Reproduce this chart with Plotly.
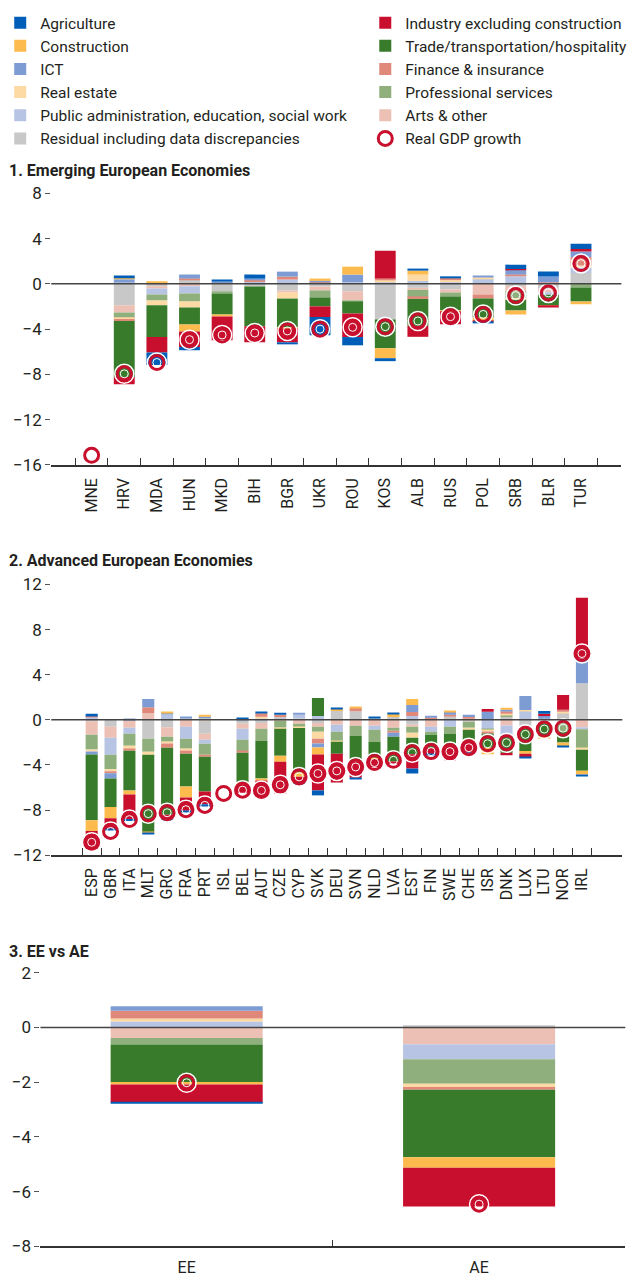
import plotly.graph_objects as go

FONT = "Roboto, Liberation Sans, sans-serif"
RED = "#C8102E"

# ---- 1. Emerging European Economies ----
ee_countries = ["MNE", "HRV", "MDA", "HUN", "MKD", "BIH", "BGR", "UKR",
                "ROU", "KOS", "ALB", "RUS", "POL", "SRB", "BLR", "TUR"]
ee_resid = [0, -1.88, -0.20, 0.38, -0.65, -0.23, -0.59, -0.23, -0.65, -3.14, -0.35, -0.50, 0, -0.20, -0.44, 0.97]
ee_arts = [0, -0.65, -0.20, -0.20, 0, 0, -0.18, -0.35, -0.82, 0, -0.18, -0.26, -0.94, -0.44, -0.29, 0]
ee_pa = [0, 0.12, -0.53, -0.65, 0, 0.17, 0.38, 0.10, 0.15, 0.16, 0.26, 0.15, 0.44, 0.67, -0.23, 0.47]
ee_prof = [0, -0.50, -0.53, -0.70, -0.20, 0, 0, -0.62, -0.09, 0, -0.65, -0.35, 0, -0.65, 0, -0.32]
ee_reale = [0, -0.08, -0.44, -0.53, 0.10, 0, -0.53, 0, 0, 0.17, 0.56, 0.18, 0.12, -0.12, 0, 0.18]
ee_fin = [0, -0.18, 0.08, 0.09, 0, 0.18, 0.26, 0.07, 0, 0.14, -0.15, 0.23, -0.35, 0.15, 0.15, 0.76]
ee_ict = [0, 0.28, 0, 0.35, 0.10, 0.12, 0.44, 0.10, 0.67, 0, 0, 0, 0.18, 0.41, 0.50, 0.47]
ee_trade = [0, -4.93, -2.79, -1.50, -1.85, -3.52, -2.55, -0.79, -1.06, -2.55, -2.38, -1.23, -1.70, -0.94, -0.94, -1.23]
ee_constr = [0, 0.17, 0.12, -0.62, -0.18, 0, -0.09, 0.20, 0.70, -0.88, 0.35, -0.09, -0.29, -0.35, -0.06, -0.26]
ee_ind = [0, -0.65, -1.38, -1.38, -2.11, -1.41, -1.23, -0.94, -2.08, 2.46, -0.97, -1.14, -0.09, 0.09, -0.12, 0.23]
ee_agri = [0, 0.16, -1.11, -0.29, 0.18, 0.35, -0.15, -1.61, -0.73, -0.26, 0.18, 0.09, -0.12, 0.38, 0.44, 0.47]
ee_gdp = [-15.15, -7.95, -6.95, -4.93, -4.52, -4.34, -4.16, -4.00, -3.84, -3.78, -3.28, -2.90, -2.70, -1.03, -0.80, 1.79]

# ---- 2. Advanced European Economies ----
ae_countries = ["ESP", "GBR", "ITA", "MLT", "GRC", "FRA", "PRT", "ISL", "BEL", "AUT", "CZE", "CYP", "SVK", "DEU",
                "SVN", "NLD", "LVA", "EST", "FIN", "SWE", "CHE", "ISR", "DNK", "LUX", "LTU", "NOR", "IRL"]
ae_resid = [-0.12, -0.62, -0.09, -1.68, -0.65, 0.15, -1.24, 0, -0.35, -0.29, 0.26, 0.12, -0.29, 0.79,
            0.76, 0.17, 0.26, -0.44, 0.09, 0.35, -0.18, 0, 0.26, -0.50, -0.12, 0.62, 3.24]
ae_arts = [-1.20, -0.97, -0.62, 0.58, -0.85, -0.62, -0.53, 0, -0.44, -0.50, -0.09, -0.35, -0.32, -0.44,
           -0.53, -0.53, -0.71, -0.18, -0.62, 0, 0.17, 0, -0.50, -0.29, 0, 0, -0.65]
ae_pa = [0.23, -1.50, -0.53, 0, 0.47, -1.06, -0.35, 0, -0.97, 0.12, 0, 0.32, 0.35, -0.62,
         0, -0.35, 0, 0.35, -0.44, -0.62, 0, -0.82, -0.94, 0.79, 0.09, -0.30, -0.18]
ae_prof = [-1.32, -1.29, -1.06, -1.15, -0.44, -0.88, -0.97, 0, -1.00, -1.06, -0.62, -0.32, -0.44, -0.82,
           -0.88, -1.06, -0.26, -0.53, -0.26, -0.62, -0.53, -0.12, 0.18, 0, -0.18, -0.74, -1.68]
ae_reale = [-0.18, -0.18, -0.29, -0.26, -0.15, -0.15, 0.12, 0, 0, 0.15, -0.09, -0.06, -0.62, -0.06,
            0, 0, 0, -0.44, 0, 0, -0.18, -0.09, 0.09, 0.09, 0, 0.09, -0.15]
ae_fin = [0.15, -0.18, -0.15, 0.53, -0.38, -0.29, -0.18, 0, -0.15, 0.32, 0.18, 0, -0.44, 0,
          0.29, 0, -0.18, 0.35, 0.09, 0.09, 0.09, -0.18, 0.24, 0, 0, 0.18, 0]
ae_ict = [-0.26, -0.47, 0.06, 0.74, 0.09, 0.10, 0.15, 0, 0.08, 0, 0, 0.18, -0.35, 0,
          0, 0, -0.35, 0.62, 0.18, 0.26, 0.18, 0.71, 0.12, 1.24, 0.26, 0, 2.20]
ae_trade = [-5.82, -2.53, -3.53, -6.88, -5.94, -2.91, -3.09, 0, -2.65, -3.35, -2.38, -3.94, 1.59, -1.06,
            -2.29, -1.47, -2.20, -1.47, -1.15, -1.09, -0.91, -1.26, -1.47, -1.97, -1.20, -0.97, -1.85]
ae_constr = [-0.97, -1.00, -0.35, -0.10, 0.15, -0.97, 0.18, 0, -0.20, -0.18, -0.53, -0.38, -0.62, 0.18,
             0.09, -0.06, 0.26, 0.53, 0, 0.09, -0.15, -0.59, 0.18, -0.24, -0.18, -0.35, -0.35]
ae_ind = [-1.58, -0.94, -2.18, 0, -0.38, -1.18, -1.12, 0, -0.70, -1.42, -2.82, -0.59, -3.18, -2.56,
          -1.44, -0.73, -0.20, -1.26, -0.59, -1.26, -0.97, 0.26, -0.24, -0.32, 0.18, 1.32, 5.38]
ae_agri = [0.15, -0.10, -0.18, -0.05, -0.09, -0.12, -0.20, 0, 0.10, 0.06, 0.18, -0.06, -0.44, 0.09,
           -0.09, 0.09, 0.09, -0.44, -0.09, 0, -0.06, 0, 0, -0.09, 0.26, -0.09, -0.09]
ae_gdp = [-10.86, -9.90, -8.85, -8.32, -8.24, -7.97, -7.59, -6.53, -6.24, -6.26, -5.76, -5.06, -4.76, -4.53,
          -4.18, -3.79, -3.59, -2.91, -2.82, -2.82, -2.47, -2.12, -2.03, -1.29, -0.82, -0.74, 5.88]

# ---- 3. EE vs AE ----
grp = ["EE", "AE"]
grp_resid = [0, 0.08]
grp_arts = [-0.38, -0.61]
grp_pa = [0.22, -0.55]
grp_prof = [-0.24, -0.90]
grp_reale = [0.11, -0.12]
grp_fin = [0.28, -0.10]
grp_ict = [0.17, 0]
grp_trade = [-1.37, -2.46]
grp_constr = [-0.09, -0.39]
grp_ind = [-0.66, -1.41]
grp_agri = [-0.04, 0]
grp_gdp = [-2.02, -6.46]

# stacking order from zero outwards: (key, label, colour, legend, rank)
sectors = [
    ("resid", "Residual including data discrepancies", "#C8C8C8", "legend", 11),
    ("arts", "Arts & other", "#EDC0B5", "legend2", 10),
    ("pa", "Public administration, education, social work", "#B8C4E4", "legend", 9),
    ("prof", "Professional services", "#8FB07C", "legend2", 8),
    ("reale", "Real estate", "#FDDAA3", "legend", 7),
    ("fin", "Finance & insurance", "#E0887A", "legend2", 6),
    ("ict", "ICT", "#7E9CD4", "legend", 5),
    ("trade", "Trade/transportation/hospitality", "#387C2B", "legend2", 4),
    ("constr", "Construction", "#FDBB4E", "legend", 3),
    ("ind", "Industry excluding construction", "#C8102E", "legend2", 2),
    ("agri", "Agriculture", "#005EB8", "legend", 1),
]

panels = [
    (ee_countries, {"resid": ee_resid, "arts": ee_arts, "pa": ee_pa, "prof": ee_prof, "reale": ee_reale,
                    "fin": ee_fin, "ict": ee_ict, "trade": ee_trade, "constr": ee_constr, "ind": ee_ind,
                    "agri": ee_agri}, ee_gdp, "x", "y", 0.64),
    (ae_countries, {"resid": ae_resid, "arts": ae_arts, "pa": ae_pa, "prof": ae_prof, "reale": ae_reale,
                    "fin": ae_fin, "ict": ae_ict, "trade": ae_trade, "constr": ae_constr, "ind": ae_ind,
                    "agri": ae_agri}, ae_gdp, "x2", "y2", 0.64),
    (grp, {"resid": grp_resid, "arts": grp_arts, "pa": grp_pa, "prof": grp_prof, "reale": grp_reale,
           "fin": grp_fin, "ict": grp_ict, "trade": grp_trade, "constr": grp_constr, "ind": grp_ind,
           "agri": grp_agri}, grp_gdp, "x3", "y3", 0.52),
]

fig = go.Figure()
for i, (cats, vals, gdp, xa, ya, bw) in enumerate(panels):
    for key, label, col, leg, rank in sectors:
        fig.add_trace(go.Bar(x=cats, y=vals[key], name=label, marker=dict(color=col, line=dict(width=0)),
                             width=bw, xaxis=xa, yaxis=ya, legendgroup=key, legend=leg,
                             legendrank=rank, showlegend=(i == 0), hoverinfo="skip"))
    fig.add_trace(go.Scatter(x=cats, y=gdp, mode="markers", xaxis=xa, yaxis=ya, showlegend=False,
                             marker=dict(symbol="circle-open", size=19, color="white",
                                         line=dict(width=1.5, color="white")), hoverinfo="skip"))
    fig.add_trace(go.Scatter(x=cats, y=gdp, mode="markers", xaxis=xa, yaxis=ya, name="Real GDP growth",
                             legendgroup="gdp", legend="legend2", legendrank=12, showlegend=(i == 0),
                             marker=dict(symbol="circle-open", size=14, color=RED,
                                         line=dict(width=3, color=RED)), hoverinfo="skip"))
    fig.add_trace(go.Scatter(x=cats, y=gdp, mode="markers", xaxis=xa, yaxis=ya, showlegend=False,
                             marker=dict(symbol="circle-open", size=8, color="white",
                                         line=dict(width=1, color="white")), hoverinfo="skip"))

W, H = 642, 1277


def py(px):
    return 1 - px / H


xdom = [(40 / W, 621 / W), (40 / W, 622 / W), (29 / W, 625 / W)]
ydom = [(py(464), py(187)), (py(862), py(586)), (py(1261), py(982))]
yrng = [(-16, 8, 4), (-12, 12, 4), (-8, 2, 2)]
cat_lists = [ee_countries, ae_countries, grp]

tick_font = dict(family=FONT, size=16, color="#231F20")
layout = dict(
    width=W, height=H, margin=dict(l=0, r=0, t=0, b=0),
    paper_bgcolor="white", plot_bgcolor="white",
    barmode="relative",
    font=dict(family=FONT, size=16, color="#231F20"),
    showlegend=True,
)
for i in range(3):
    n = "" if i == 0 else str(i + 1)
    lo, hi, step = yrng[i]
    layout["xaxis" + n] = dict(domain=list(xdom[i]), anchor="y" + n, type="category",
                               tickmode="array", tickvals=cat_lists[i],
                               showline=True, linecolor="#333", linewidth=1.5,
                               ticks="inside", tickson="boundaries", ticklen=7, tickcolor="#333",
                               tickangle=-90 if i < 2 else 0, tickfont=tick_font,
                               ticklabelstandoff=5 if i < 2 else 6,
                               showgrid=False, zeroline=False, fixedrange=True)
    layout["yaxis" + n] = dict(domain=list(ydom[i]), anchor="x" + n, range=[lo, hi], dtick=step,
                               tick0=0, ticks="outside", ticklen=5, tickcolor="#555",
                               tickfont=dict(family=FONT, size=17, color="#231F20"),
                               showgrid=False, zeroline=False, showline=False)
    layout["yaxis" + str(i + 4)] = dict(overlaying="y" + n, side="right", range=[lo, hi], dtick=step,
                                        tick0=0, ticks="outside", ticklen=5, tickcolor="#555",
                                        showticklabels=False, showgrid=False, zeroline=False,
                                        anchor="x" + n)

legend_common = dict(font=dict(family=FONT, size=15.5, color="#231F20"), orientation="v",
                     traceorder="normal", yanchor="top", y=py(-4),
                     bgcolor="rgba(0,0,0,0)", itemwidth=30)
layout["legend"] = dict(x=-12 / W, xanchor="left", **legend_common)
layout["legend2"] = dict(x=360 / W, xanchor="left", **legend_common)

fig.update_layout(**layout)

# zero lines drawn over the bars
for i in range(3):
    n = "" if i == 0 else str(i + 1)
    fig.add_shape(type="line", xref=("x" + n + " domain"), yref="y" + n, x0=0, x1=1, y0=0, y1=0,
                  line=dict(color="#444", width=1.5), layer="above")

titles = ["1. Emerging European Economies", "2. Advanced European Economies", "3. EE vs AE"]
for t, ypx in zip(titles, [164, 561, 960]):
    fig.add_annotation(text="<b>" + t + "</b>", xref="paper", yref="paper", x=-5 / W, y=py(ypx),
                       xanchor="left", yanchor="middle", showarrow=False,
                       font=dict(family=FONT, size=16, color="#231F20"))

# the browser's default page margin would push the figure off its 642x1277 window
fig.write_html("out.html", config={"displayModeBar": False},
               post_script="document.body.style.margin='0px';")
